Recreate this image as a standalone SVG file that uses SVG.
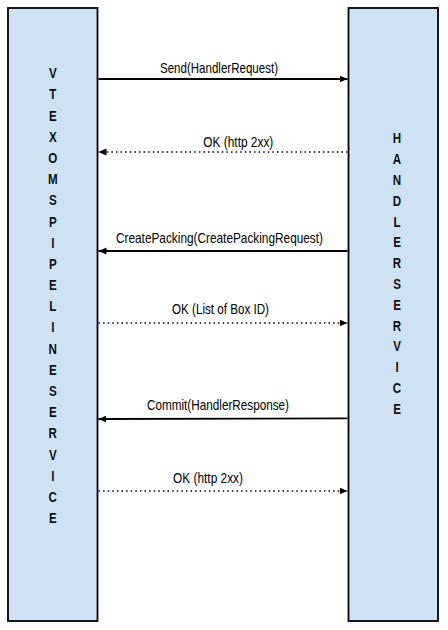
<svg xmlns="http://www.w3.org/2000/svg" width="448" height="630" viewBox="0 0 448 630">
<style>
.box{fill:#cfe2f3;stroke:#000;stroke-width:1.8}
.v{font-family:"Liberation Sans",Arial,sans-serif;font-weight:bold;font-size:14.5px;fill:#111;text-anchor:middle}
.lbl{font-family:"Liberation Sans",Arial,sans-serif;font-size:15px;fill:#000;text-anchor:middle}
.solid{stroke:#000;stroke-width:1.8;fill:none}
.dot{stroke:#000;stroke-width:1.7;fill:none;stroke-dasharray:1.5 3.1}
</style>
<defs>
<marker id="ah" markerUnits="userSpaceOnUse" markerWidth="8" markerHeight="8" viewBox="0 0 8 8" refX="8" refY="4" orient="auto">
<path d="M0,0.5 L8,4 L0,7.5 Z" fill="#000"/>
</marker>
</defs>
<rect width="448" height="630" fill="#fff"/>
<g id="vtex-oms-pipeline-service">
<rect class="box" x="8" y="8" width="89.5" height="613"/>
<g transform="translate(52.8,0) scale(0.8,1)">
<text class="v" x="0" y="78.3">V</text>
<text class="v" x="0" y="99.5">T</text>
<text class="v" x="0" y="120.7">E</text>
<text class="v" x="0" y="141.8">X</text>
<text class="v" x="0" y="163">O</text>
<text class="v" x="0" y="184.2">M</text>
<text class="v" x="0" y="205.4">S</text>
<text class="v" x="0" y="226.6">P</text>
<text class="v" x="0" y="247.7">I</text>
<text class="v" x="0" y="268.9">P</text>
<text class="v" x="0" y="290.1">E</text>
<text class="v" x="0" y="311.3">L</text>
<text class="v" x="0" y="332.5">I</text>
<text class="v" x="0" y="353.7">N</text>
<text class="v" x="0" y="374.8">E</text>
<text class="v" x="0" y="396">S</text>
<text class="v" x="0" y="417.2">E</text>
<text class="v" x="0" y="438.4">R</text>
<text class="v" x="0" y="459.6">V</text>
<text class="v" x="0" y="480.7">I</text>
<text class="v" x="0" y="501.9">C</text>
<text class="v" x="0" y="523">E</text>
</g>
</g>
<g id="handler-service">
<rect class="box" x="348.5" y="8" width="89.5" height="613"/>
<g transform="translate(397,0) scale(0.8,1)">
<text class="v" x="0" y="143.3">H</text>
<text class="v" x="0" y="164.1">A</text>
<text class="v" x="0" y="184.9">N</text>
<text class="v" x="0" y="205.8">D</text>
<text class="v" x="0" y="226.6">L</text>
<text class="v" x="0" y="247.4">E</text>
<text class="v" x="0" y="268.2">R</text>
<text class="v" x="0" y="289.1">S</text>
<text class="v" x="0" y="309.9">E</text>
<text class="v" x="0" y="330.7">R</text>
<text class="v" x="0" y="351.5">V</text>
<text class="v" x="0" y="372.4">I</text>
<text class="v" x="0" y="393.2">C</text>
<text class="v" x="0" y="414">E</text>
</g>
</g>
<g id="connectors">
<line class="solid" x1="98.5" y1="79" x2="347.5" y2="79" marker-end="url(#ah)"/>
<text class="lbl" x="219" y="72.5" textLength="118" lengthAdjust="spacingAndGlyphs">Send(HandlerRequest)</text>
<line class="dot" x1="347.5" y1="152" x2="98.5" y2="152" marker-end="url(#ah)"/>
<text class="lbl" x="238.3" y="146.7" textLength="70" lengthAdjust="spacingAndGlyphs">OK (http 2xx)</text>
<line class="solid" x1="347.5" y1="251" x2="98.5" y2="251" marker-end="url(#ah)"/>
<text class="lbl" x="219.5" y="242.5" textLength="207" lengthAdjust="spacingAndGlyphs">CreatePacking(CreatePackingRequest)</text>
<line class="dot" x1="98.5" y1="323" x2="347.5" y2="323" marker-end="url(#ah)"/>
<text class="lbl" x="220.5" y="314" textLength="97" lengthAdjust="spacingAndGlyphs">OK (List of Box ID)</text>
<line class="solid" x1="347.5" y1="418.3" x2="98.5" y2="419" marker-end="url(#ah)"/>
<text class="lbl" x="218" y="410" textLength="142" lengthAdjust="spacingAndGlyphs">Commit(HandlerResponse)</text>
<line class="dot" x1="98.5" y1="491" x2="347.5" y2="491" marker-end="url(#ah)"/>
<text class="lbl" x="208" y="483.3" textLength="70" lengthAdjust="spacingAndGlyphs">OK (http 2xx)</text>
</g>
</svg>
